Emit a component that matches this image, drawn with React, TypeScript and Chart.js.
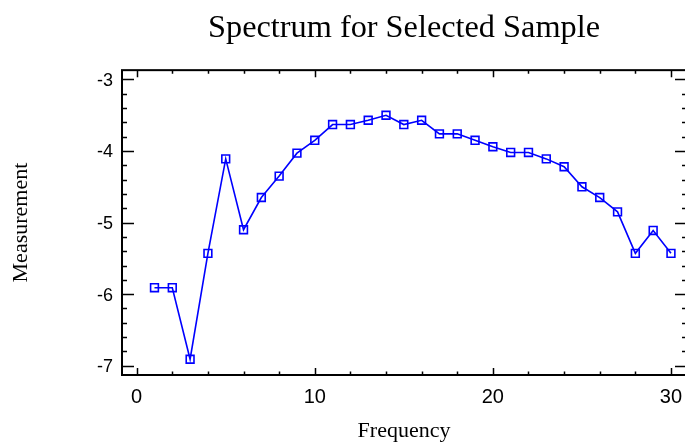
import React, { useEffect, useRef } from 'react';
import { Chart, registerables } from 'chart.js';

Chart.register(...registerables);

const frequencies = [1, 2, 3, 4, 5, 6, 7, 8, 9, 10, 11, 12, 13, 14, 15, 16, 17, 18, 19, 20, 21, 22, 23, 24, 25, 26, 27, 28, 29, 30];
const measurements = [-5.91, -5.91, -6.91, -5.43, -4.11, -5.10, -4.65, -4.35, -4.03, -3.85, -3.63, -3.63, -3.57, -3.50, -3.63, -3.57, -3.76, -3.76, -3.85, -3.94, -4.02, -4.02, -4.11, -4.22, -4.50, -4.65, -4.85, -5.43, -5.11, -5.43];
const xTickValues = [0, 10, 20, 30];
const yTickValues = [-7, -6, -5, -4, -3];
const xMinorStep = 2;
const yMinorStep = 0.2;

const SERIF = '"Liberation Serif", "Times New Roman", serif';
const SANS = '"Liberation Sans", Arial, sans-serif';

export default function App() {
  const ref = useRef<HTMLCanvasElement>(null);

  useEffect(() => {
    if (!ref.current) return;
    const framePlugin = {
      id: 'frameTicks',
      beforeDatasetsDraw(chart: any) {
        const { ctx, chartArea, scales } = chart;
        const { left, right, top, bottom } = chartArea;
        const xs = scales.x;
        const ys = scales.y;
        ctx.save();
        ctx.strokeStyle = '#000';
        ctx.lineWidth = 2;
        ctx.strokeRect(left + 1, top, right - left, bottom - top);
        ctx.lineWidth = 1.5;
        ctx.beginPath();
        const x0 = xTickValues[0];
        const x1 = xTickValues[xTickValues.length - 1];
        const nx = Math.round((x1 - x0) / xMinorStep);
        for (let k = 0; k <= nx; k++) {
          const v = x0 + k * xMinorStep;
          const px = Math.round(xs.getPixelForValue(v)) + 0.5;
          const major = xTickValues.includes(v);
          const len = major ? 7 : 3.5;
          ctx.moveTo(px, bottom);
          ctx.lineTo(px, bottom - len);
          ctx.moveTo(px, top);
          ctx.lineTo(px, top + len);
        }
        const y0 = yTickValues[0];
        const y1 = yTickValues[yTickValues.length - 1];
        const ny = Math.round((y1 - y0) / yMinorStep);
        const perMajor = Math.round(1 / yMinorStep);
        for (let k = 0; k <= ny; k++) {
          const v = y0 + k * yMinorStep;
          const py = Math.round(ys.getPixelForValue(v)) + 0.5;
          const major = k % perMajor === 0;
          const len = major ? 12 : 5;
          ctx.moveTo(left + 1, py);
          ctx.lineTo(left + 1 + len, py);
          ctx.moveTo(right, py);
          ctx.lineTo(right - len, py);
        }
        ctx.stroke();
        ctx.restore();
      },
    };

    const chart = new Chart(ref.current, {
      type: 'line',
      data: {
        datasets: [
          {
            data: frequencies.map((f, i) => ({ x: f, y: measurements[i] })),
            borderColor: '#0000ff',
            borderWidth: 1.6,
            pointStyle: 'rect',
            pointRadius: 5.5,
            pointBorderColor: '#0000ff',
            pointBackgroundColor: 'rgba(0,0,0,0)',
            pointBorderWidth: 1.6,
            tension: 0,
            clip: false,
          },
        ],
      },
      options: {
        animation: false,
        responsive: false,
        layout: { padding: { left: 0, right: 13, top: 0, bottom: 0 } },
        plugins: {
          legend: { display: false },
          tooltip: { enabled: false },
          title: {
            display: true,
            text: 'Spectrum for Selected Sample',
            fullSize: false,
            color: '#000',
            font: { family: SERIF, size: 32.3, weight: 'normal', lineHeight: 1.2 },
            padding: { top: 9, bottom: 22.4 },
          },
        },
        scales: {
          x: {
            type: 'linear',
            min: -0.88,
            max: 30.9,
            grid: { display: false, drawTicks: false },
            border: { display: false },
            afterBuildTicks: (s: any) => {
              s.ticks = xTickValues.map((v) => ({ value: v }));
            },
            ticks: {
              color: '#000',
              font: { family: SANS, size: 20, lineHeight: 1.2 },
              padding: 10,
              maxRotation: 0,
              autoSkip: false,
            },
            title: {
              display: true,
              text: 'Frequency',
              color: '#000',
              font: { family: SERIF, size: 22, lineHeight: 1 },
              padding: { top: 0, bottom: 0 },
            },
            afterFit: (s: any) => {
              s.height = 67;
            },
          },
          y: {
            type: 'linear',
            min: -7.13,
            max: -2.87,
            grid: { display: false, drawTicks: false },
            border: { display: false },
            afterBuildTicks: (s: any) => {
              s.ticks = yTickValues.map((v) => ({ value: v }));
            },
            ticks: {
              color: '#000',
              font: { family: SANS, size: 18, lineHeight: 1.2 },
              padding: 8,
              labelOffset: 1.5,
              autoSkip: false,
            },
            title: {
              display: true,
              text: 'Measurement',
              color: '#000',
              font: { family: SERIF, size: 22, lineHeight: 1 },
              padding: { top: 10, bottom: 0 },
            },
            afterFit: (s: any) => {
              s.width = 121;
            },
          },
        },
      },
      plugins: [framePlugin],
    } as any);
    return () => chart.destroy();
  }, []);

  return (
    <div
      style={{
        position: 'absolute',
        left: 0,
        top: 0,
        width: 685,
        height: 442,
        overflow: 'hidden',
        background: '#fff',
      }}
    >
      <canvas ref={ref} width={700} height={442} style={{ display: 'block', width: 700, height: 442 }} />
    </div>
  );
}
